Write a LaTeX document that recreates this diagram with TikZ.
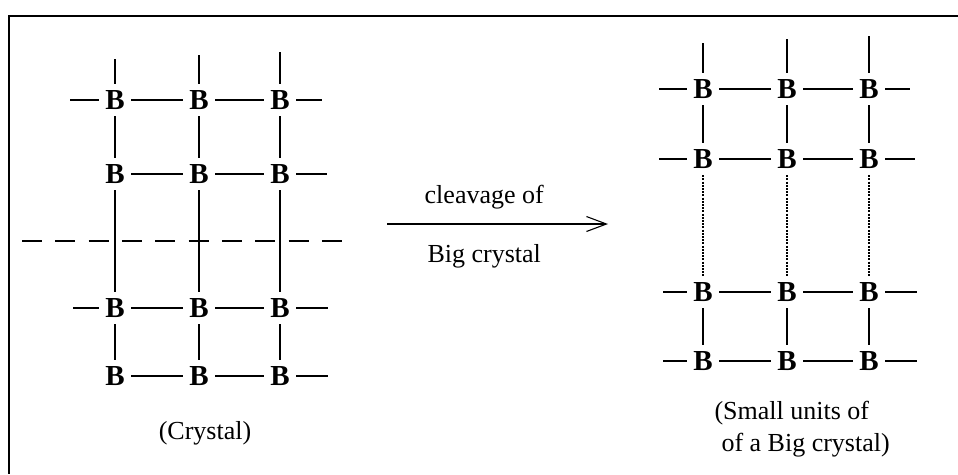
\documentclass[tikz,border=0pt]{standalone}
\usepackage{fontspec}
\setmainfont{Liberation Serif}
\usetikzlibrary{arrows.meta, positioning}

\begin{document}
\begin{tikzpicture}[
        x=1pt, y=-1pt,
        atom/.style={inner sep=0pt, minimum width=32pt, minimum height=32pt, font=\fontsize{29}{29}\selectfont\bfseries},
        bond/.style={line width=1.1pt},
        broken/.style={line width=1.1pt, dash pattern=on 2pt off 1.2pt},
        cut/.style={line width=1.1pt, dash pattern=on 20pt off 13.33pt},
        caption/.style={font=\fontsize{26}{32}\selectfont},
        arrow/.style={-{Straight Barb[length=20pt, width=15pt, line width=1.1pt]}, line width=1.1pt}
    ]
    \useasboundingbox (0,0) rectangle (958,474);

    % The frame
    \draw[line width=1.6pt] (958,16) -- (9,16) -- (9,474);

    % The big crystal
    \node (c11) [atom] at (115,100) {B};
    \node (c12) [atom] at (199,100) {B};
    \node (c13) [atom] at (280,100) {B};
    \node (c21) [atom] at (115,174) {B};
    \node (c22) [atom] at (199,174) {B};
    \node (c23) [atom] at (280,174) {B};
    \node (c31) [atom] at (115,308) {B};
    \node (c32) [atom] at (199,308) {B};
    \node (c33) [atom] at (280,308) {B};
    \node (c41) [atom] at (115,376) {B};
    \node (c42) [atom] at (199,376) {B};
    \node (c43) [atom] at (280,376) {B};

    \coordinate (cT1) at (115,59);
    \coordinate (cT2) at (199,55);
    \coordinate (cT3) at (280,52);
    \coordinate (cL1) at (70,100);
    \coordinate (cL3) at (73,308);
    \coordinate (cR1) at (322,100);
    \coordinate (cR2) at (327,174);
    \coordinate (cR3) at (328,308);
    \coordinate (cR4) at (328,376);

    \draw[bond] (cL1) -- (c11) -- (c12) -- (c13) -- (cR1);
    \draw[bond] (c21) -- (c22) -- (c23) -- (cR2);
    \draw[bond] (cL3) -- (c31) -- (c32) -- (c33) -- (cR3);
    \draw[bond] (c41) -- (c42) -- (c43) -- (cR4);
    \draw[bond] (cT1) -- (c11) -- (c21) -- (c31) -- (c41);
    \draw[bond] (cT2) -- (c12) -- (c22) -- (c32) -- (c42);
    \draw[bond] (cT3) -- (c13) -- (c23) -- (c33) -- (c43);

    % The cleavage plane
    \coordinate (cutL) at (22,241);
    \coordinate (cutR) at (342,241);
    \draw[cut] (cutL) -- (cutR);

    \node (crystal) [caption] at (205,433) {(Crystal)};

    % The arrow
    \coordinate (arrL) at (387,224);
    \coordinate (arrR) at (608,224);
    \draw[arrow] (arrL) -- node[caption, pos=0.44, above=11pt] (cleave) {cleavage of}
                          node[caption, pos=0.44, below=17pt] (big) {Big crystal} (arrR);

    % The small units
    \node (s11) [atom] at (703,89) {B};
    \node (s12) [atom] at (787,89) {B};
    \node (s13) [atom] at (869,89) {B};
    \node (s21) [atom] at (703,159) {B};
    \node (s22) [atom] at (787,159) {B};
    \node (s23) [atom] at (869,159) {B};
    \node (s31) [atom] at (703,292) {B};
    \node (s32) [atom] at (787,292) {B};
    \node (s33) [atom] at (869,292) {B};
    \node (s41) [atom] at (703,361) {B};
    \node (s42) [atom] at (787,361) {B};
    \node (s43) [atom] at (869,361) {B};

    \coordinate (sT1) at (703,43);
    \coordinate (sT2) at (787,39);
    \coordinate (sT3) at (869,36);
    \coordinate (sL1) at (659,89);
    \coordinate (sL2) at (659,159);
    \coordinate (sL3) at (663,292);
    \coordinate (sL4) at (663,361);
    \coordinate (sR1) at (910,89);
    \coordinate (sR2) at (915,159);
    \coordinate (sR3) at (917,292);
    \coordinate (sR4) at (917,361);

    \draw[bond] (sL1) -- (s11) -- (s12) -- (s13) -- (sR1);
    \draw[bond] (sL2) -- (s21) -- (s22) -- (s23) -- (sR2);
    \draw[bond] (sL3) -- (s31) -- (s32) -- (s33) -- (sR3);
    \draw[bond] (sL4) -- (s41) -- (s42) -- (s43) -- (sR4);
    \draw[bond] (sT1) -- (s11) -- (s21);
    \draw[bond] (sT2) -- (s12) -- (s22);
    \draw[bond] (sT3) -- (s13) -- (s23);
    \draw[broken] (s21) -- (s31);
    \draw[broken] (s22) -- (s32);
    \draw[broken] (s23) -- (s33);
    \draw[bond] (s31) -- (s41);
    \draw[bond] (s32) -- (s42);
    \draw[bond] (s33) -- (s43);

    \node (units) [caption, align=left, anchor=west] at (711,429) {(Small units of\\\hspace{7pt}of a Big crystal)};

\end{tikzpicture}
\end{document}
